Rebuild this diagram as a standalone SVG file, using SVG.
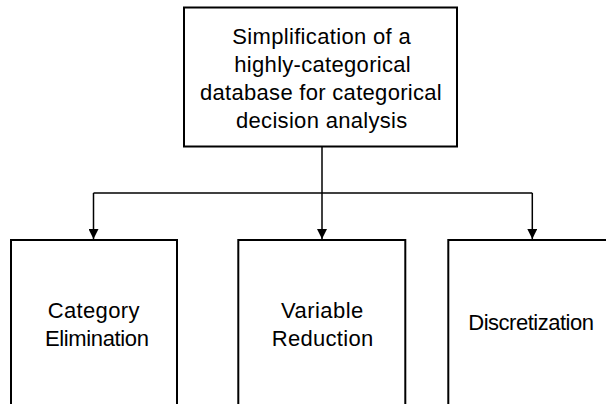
<svg xmlns="http://www.w3.org/2000/svg" width="606" height="404" viewBox="0 0 606 404">
<style>
.box{fill:#fff;stroke:#000;stroke-width:2}
.t{font-family:"Liberation Sans",Arial,sans-serif;font-size:22px;fill:#000}
.c{fill:none;stroke:#000;stroke-width:1.5}
</style>
<defs>
<marker id="ah" markerWidth="11" markerHeight="10" refX="10" refY="5" orient="auto" markerUnits="userSpaceOnUse">
<path d="M0,0 L10,5 L0,10 Z" fill="#000"/>
</marker>
</defs>
<rect width="606" height="404" fill="#fff"/>
<g id="connectors">
<path class="c" d="M322,146.5 V239" marker-end="url(#ah)"/>
<path class="c" d="M93.5,193 H532.3"/>
<path class="c" d="M93.5,193 V239" marker-end="url(#ah)"/>
<path class="c" d="M532.3,193 V239" marker-end="url(#ah)"/>
</g>
<g id="root">
<rect class="box" x="184" y="7.5" width="273" height="139"/>
<text class="t" x="232.3" y="44" textLength="178.4" lengthAdjust="spacing">Simplification of a</text>
<text class="t" x="234.3" y="72" textLength="176.4" lengthAdjust="spacing">highly-categorical</text>
<text class="t" x="200" y="100.3" textLength="241.7" lengthAdjust="spacing">database for categorical</text>
<text class="t" x="236" y="127.5" textLength="171.3" lengthAdjust="spacing">decision analysis</text>
</g>
<g id="category">
<rect class="box" x="11" y="240" width="166" height="180"/>
<text class="t" x="47.7" y="317.5" textLength="91.7" lengthAdjust="spacing">Category</text>
<text class="t" x="45" y="345.7" textLength="104" lengthAdjust="spacing">Elimination</text>
</g>
<g id="variable">
<rect class="box" x="238.3" y="240" width="167" height="180"/>
<text class="t" x="281" y="317.5" textLength="82.3" lengthAdjust="spacing">Variable</text>
<text class="t" x="271.7" y="345.7" textLength="101.6" lengthAdjust="spacing">Reduction</text>
</g>
<g id="discretization">
<rect class="box" x="448.3" y="240" width="180" height="180"/>
<text class="t" x="468.3" y="330" textLength="125.7" lengthAdjust="spacing">Discretization</text>
</g>
</svg>
